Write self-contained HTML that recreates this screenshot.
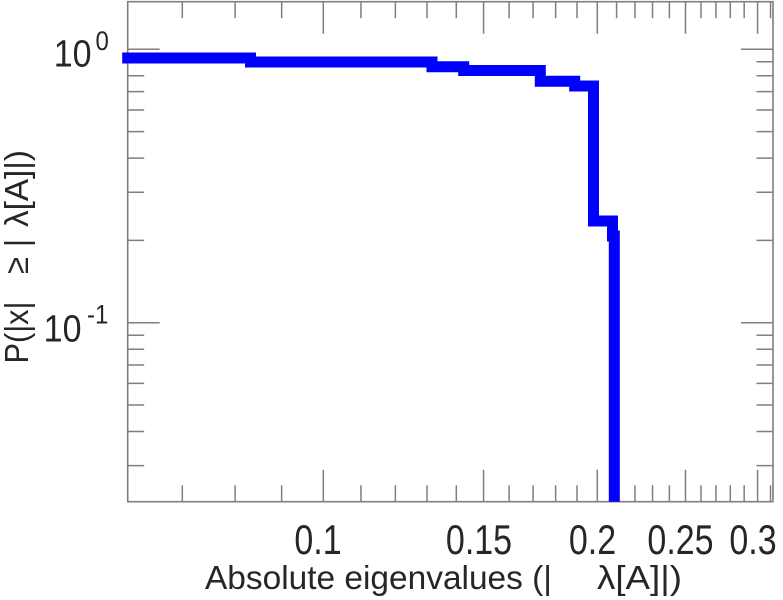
<!DOCTYPE html>
<html>
<head>
<meta charset="utf-8">
<style>
  html, body { margin: 0; padding: 0; background: #ffffff; }
  svg { display: block; }
  text { font-family: "Liberation Sans", "DejaVu Sans", sans-serif; fill: #262626; }
</style>
</head>
<body>
<svg width="783" height="600" viewBox="0 0 783 600" xmlns="http://www.w3.org/2000/svg">
  <rect x="0" y="0" width="783" height="600" fill="#ffffff"/>

  <!-- ticks -->
  <g stroke="#7f7f7f" stroke-width="1.5" fill="none">
    <path d="
      M182.3 501.7 v-16.5 M235.1 501.7 v-16.5 M281.65 501.7 v-16.5
      M360.97 501.7 v-16.5 M395.37 501.7 v-16.5 M427.01 501.7 v-16.5 M456.31 501.7 v-16.5
      M509.09 501.7 v-16.5 M533.06 501.7 v-16.5 M555.65 501.7 v-16.5 M577.02 501.7 v-16.5
      M616.59 501.7 v-16.5 M634.97 501.7 v-16.5 M652.55 501.7 v-16.5 M669.37 501.7 v-16.5
      M701.01 501.7 v-16.5 M715.93 501.7 v-16.5 M730.3 501.7 v-16.5 M744.18 501.7 v-16.5
      M770.54 501.7 v-16.5
      M182.3 1.7 v16.5 M235.1 1.7 v16.5 M281.65 1.7 v16.5
      M360.97 1.7 v16.5 M395.37 1.7 v16.5 M427.01 1.7 v16.5 M456.31 1.7 v16.5
      M509.09 1.7 v16.5 M533.06 1.7 v16.5 M555.65 1.7 v16.5 M577.02 1.7 v16.5
      M616.59 1.7 v16.5 M634.97 1.7 v16.5 M652.55 1.7 v16.5 M669.37 1.7 v16.5
      M701.01 1.7 v16.5 M715.93 1.7 v16.5 M730.3 1.7 v16.5 M744.18 1.7 v16.5
      M770.54 1.7 v16.5
    "/>
    <path d="
      M323.3 501.7 v-32 M483.58 501.7 v-32 M597.3 501.7 v-32 M685.5 501.7 v-32 M757.58 501.7 v-32
      M323.3 1.7 v32 M483.58 1.7 v32 M597.3 1.7 v32 M685.5 1.7 v32 M757.58 1.7 v32
    "/>
    <path d="
      M127.7 61.81 h16.5 M127.7 75.8 h16.5 M127.7 91.65 h16.5 M127.7 109.95 h16.5
      M127.7 131.6 h16.5 M127.7 158.1 h16.5 M127.7 192.26 h16.5 M127.7 240.4 h16.5
      M127.7 335.21 h16.5 M127.7 349.2 h16.5 M127.7 365.05 h16.5 M127.7 383.35 h16.5
      M127.7 405.0 h16.5 M127.7 431.5 h16.5 M127.7 465.66 h16.5
      M773 61.81 h-16.5 M773 75.8 h-16.5 M773 91.65 h-16.5 M773 109.95 h-16.5
      M773 131.6 h-16.5 M773 158.1 h-16.5 M773 192.26 h-16.5 M773 240.4 h-16.5
      M773 335.21 h-16.5 M773 349.2 h-16.5 M773 365.05 h-16.5 M773 383.35 h-16.5
      M773 405.0 h-16.5 M773 431.5 h-16.5 M773 465.66 h-16.5
    "/>
    <path d="M127.7 49.3 h32 M127.7 322.7 h32 M773 49.3 h-32 M773 322.7 h-32"/>
  </g>

  <!-- axes box -->
  <rect x="127.7" y="1.7" width="645.3" height="500" fill="none" stroke="#7f7f7f" stroke-width="1.6"/>

  <!-- data step line -->
  <path d="M122.2 58 H250.5 V62 H432 V66.7 H463.7 V70.5 H540.3 V81.2 H574.7 V86 H593.5 V221 H612.5 V236 H614.3 V501.7"
        fill="none" stroke="#0000ff" stroke-width="11" stroke-linejoin="miter" stroke-linecap="butt"/>

  <!-- y tick labels -->
  <g transform="translate(0 66.7) scale(1 1.12)">
    <text x="91.5" y="0" font-size="34" text-anchor="end">10</text>
  </g>
  <g transform="translate(0 50) scale(1 1.12)">
    <text x="95.5" y="0" font-size="24">0</text>
  </g>
  <g transform="translate(0 341.7) scale(1 1.12)">
    <text x="81.5" y="0" font-size="34" text-anchor="end">10</text>
  </g>
  <g transform="translate(0 323.3) scale(1 1.12)">
    <text x="87" y="0" font-size="24">-1</text>
  </g>

  <!-- x tick labels -->
  <g transform="translate(0 554) scale(1 1.22)" font-size="34" text-anchor="middle">
    <text x="318" y="0">0.1</text>
    <text x="479" y="0">0.15</text>
    <text x="592.5" y="0">0.2</text>
    <text x="680.5" y="0">0.25</text>
    <text x="753" y="0">0.3</text>
  </g>

  <!-- x axis title -->
  <text x="205" y="589" font-size="33" textLength="347" lengthAdjust="spacingAndGlyphs">Absolute eigenvalues (|</text>
  <text x="597" y="589" font-size="33" textLength="85" lengthAdjust="spacingAndGlyphs">λ[A]|)</text>

  <!-- y axis title (rotated pieces) -->
  <g transform="translate(28 0) scale(1.08 1) translate(-28 0)">
    <text x="0" y="0" font-size="31" transform="translate(28 363.5) rotate(-90)" textLength="62" lengthAdjust="spacingAndGlyphs">P(|x|</text>
    <text x="0" y="0" font-size="31" transform="translate(28 274) rotate(-90)">≥</text>
    <text x="0" y="0" font-size="31" transform="translate(28 247) rotate(-90)">|</text>
    <text x="0" y="0" font-size="31" transform="translate(28 227) rotate(-90)" textLength="77" lengthAdjust="spacingAndGlyphs">λ[A]|)</text>
  </g>
</svg>
</body>
</html>
